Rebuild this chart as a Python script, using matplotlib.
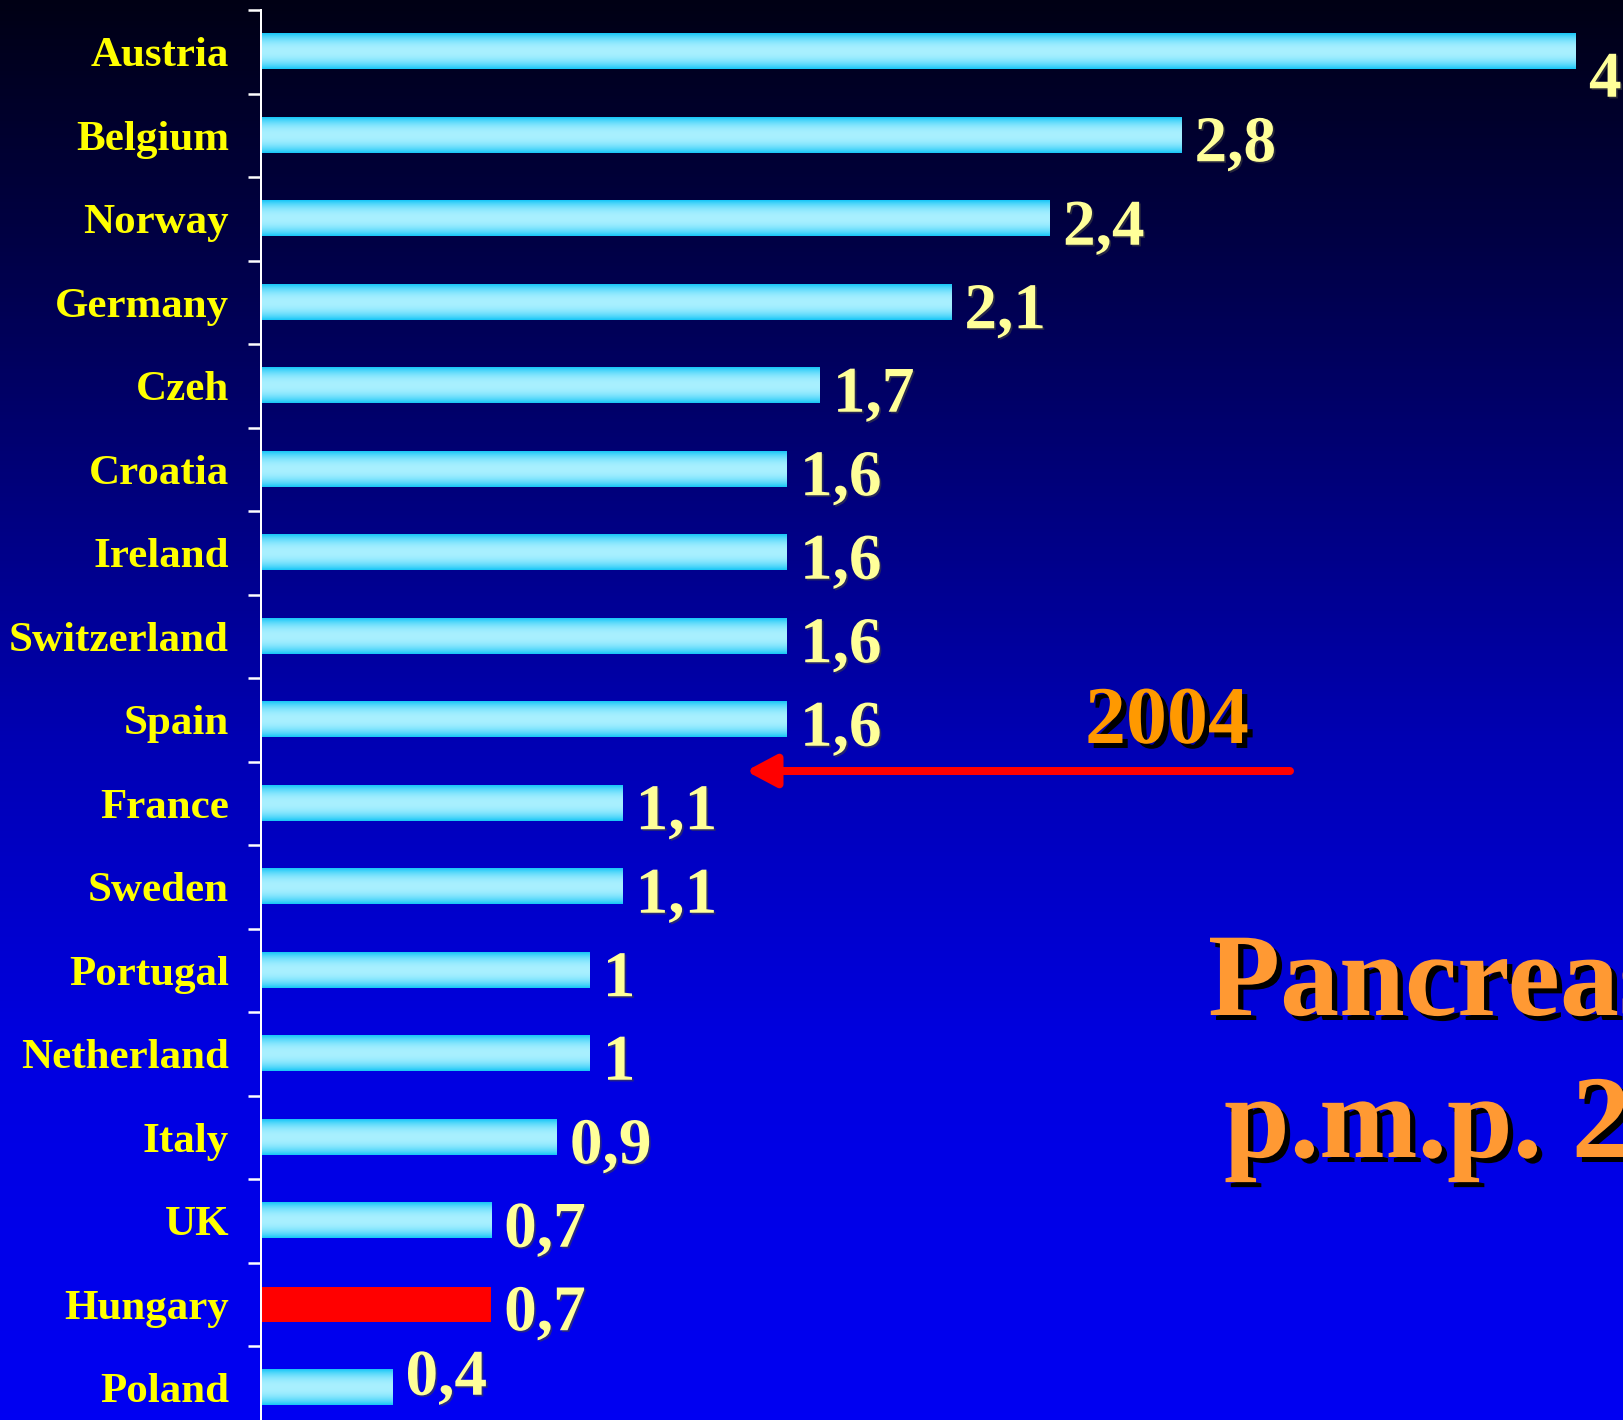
import numpy as np
import matplotlib
matplotlib.use("Agg")
import matplotlib.pyplot as plt
import matplotlib.patheffects as pe

pays = ["Austria", "Belgium", "Norway", "Germany", "Czeh", "Croatia", "Ireland",
        "Switzerland", "Spain", "France", "Sweden", "Portugal", "Netherland",
        "Italy", "UK", "Hungary", "Poland"]
valeurs = [4, 2.8, 2.4, 2.1, 1.7, 1.6, 1.6, 1.6, 1.6, 1.1, 1.1, 1, 1, 0.9, 0.7, 0.7, 0.4]
etiquettes = ["4", "2,8", "2,4", "2,1", "1,7", "1,6", "1,6", "1,6", "1,6", "1,1", "1,1",
              "1", "1", "0,9", "0,7", "0,7", "0,4"]
pays_rouge = "Hungary"

W, H, DPI = 1623, 1420, 100
SERIF = ["Liberation Serif", "DejaVu Serif"]

fig = plt.figure(figsize=(W / DPI, H / DPI), dpi=DPI)

# fond degrade noir -> bleu
fond = fig.add_axes([0, 0, 1, 1], zorder=-10)
yy = np.linspace(0, 1, 400)
bleu = np.interp(yy, [0, 0.17, 0.52, 0.74, 1.0], [0.08, 0.27, 0.70, 0.88, 0.95])
grad = np.zeros((400, 1, 3))
grad[:, 0, 2] = bleu
fond.imshow(grad, aspect="auto", extent=[0, 1, 1, 0])
fond.set_xlim(0, 1)
fond.set_ylim(1, 0)
fond.axis("off")

# axes du graphique (le bas depasse un peu de l'image, comme sur la diapo)
gauche = 261 / W
haut = 1 - 10 / H
bas = 1 - 1429.5 / H
ax = fig.add_axes([gauche, bas, 1 - gauche, haut - bas])
ax.set_facecolor("none")
ax.set_xlim(0, (W - 261) / 328.75)
ax.set_ylim(len(pays) - 0.5, -0.5)

pos = np.arange(len(pays))
couleurs = ["#ff0000" if p == pays_rouge else "#40d0f8" for p in pays]
barres = ax.barh(pos, valeurs, height=0.42, color=couleurs, zorder=2)

# degrade cyan des barres
t = np.linspace(0, 1, 60)
d = np.abs(t - 0.5) * 2
bord = np.array([0.10, 0.78, 0.97])
centre = np.array([0.66, 0.94, 1.0])
prof = centre[None, :] + (bord - centre)[None, :] * (d ** 2.2)[:, None]
img = prof[:, None, :]
for b, p in zip(barres, pays):
    if p == pays_rouge:
        continue
    x0, y0 = b.get_x(), b.get_y()
    ax.imshow(img, aspect="auto", zorder=3,
              extent=[x0, x0 + b.get_width(), y0 + b.get_height(), y0])
ax.set_xlim(0, (W - 261) / 328.75)
ax.set_ylim(len(pays) - 0.5, -0.5)

# valeurs a droite des barres
decal = {"Austria": -45, "Poland": -7}
for v, lab, p, y in zip(valeurs, etiquettes, pays, pos):
    dy = decal.get(p, -26) * 72 / DPI
    ax.annotate(lab, (v, y), xytext=(13 * 72 / DPI, dy), textcoords="offset points",
                ha="left", va="baseline", fontsize=47, fontweight="bold",
                family=SERIF, color="#ffff99", zorder=5, annotation_clip=False,
                path_effects=[pe.SimplePatchShadow(offset=(1.2, -1.2), shadow_rgbFace="#404040", alpha=0.6),
                              pe.Normal()])

# axe vertical et graduations
for s in ["top", "right", "bottom"]:
    ax.spines[s].set_visible(False)
ax.spines["left"].set_color("white")
ax.spines["left"].set_linewidth(2 * 72 / DPI)
ax.spines["left"].set_zorder(6)
ax.set_xticks([])
ax.set_yticks(pos)
ax.set_yticklabels(pays, fontsize=31, fontweight="bold", family=SERIF, color="#ffff00")
ax.tick_params(axis="y", which="major", length=0, pad=32 * 72 / DPI)
ax.set_yticks(np.arange(-0.5, len(pays)), minor=True)
ax.tick_params(axis="y", which="minor", length=13 * 72 / DPI, width=2.5 * 72 / DPI,
               color="white", direction="out")

# fleche 2004
y_fl = (771 - 10) / 83.5 - 0.5
ax.annotate("", xy=((746 - 261) / 328.75, y_fl), xytext=((1290 - 261) / 328.75, y_fl),
            arrowprops=dict(arrowstyle="-|>,head_length=0.9,head_width=0.48",
                            mutation_scale=20, color="#ff0000", lw=8 * 72 / DPI,
                            shrinkA=0, shrinkB=0),
            zorder=4, annotation_clip=False)

ombre = [pe.SimplePatchShadow(offset=(3.8, -3.6), shadow_rgbFace="black", alpha=1), pe.Normal()]
fig.text(1085 / W, 1 - 743 / H, "2004", fontsize=59, fontweight="bold", family=SERIF,
         color="#ff9900", ha="left", va="baseline", path_effects=ombre)
fig.text(1208 / W, 1 - 1015 / H, "Pancreas", fontsize=85, fontweight="bold", family=SERIF,
         color="#ff9933", ha="left", va="baseline", path_effects=ombre)
fig.text(1224 / W, 1 - 1157 / H, "p.m.p. 2004", fontsize=85, fontweight="bold", family=SERIF,
         color="#ff9933", ha="left", va="baseline", path_effects=ombre)

fig.savefig("out.png", dpi=DPI)
